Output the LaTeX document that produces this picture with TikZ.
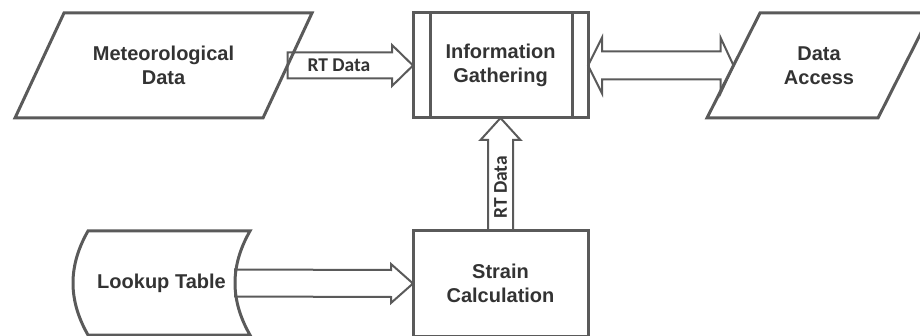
\documentclass[tikz,border=0pt]{standalone}
\usepackage{fontspec}
\setmainfont{Liberation Sans}
\newfontfamily\arrowfont{Carlito}
\usetikzlibrary{calc}
\definecolor{linegray}{HTML}{5A5A5A}
\definecolor{textgray}{HTML}{333333}
\tikzset{
  shapetext/.style={inner sep=0pt, outer sep=0pt, align=center, text=textgray,
    font=\fontsize{20}{24}\selectfont\bfseries},
  outline/.style={draw=linegray, line width=3pt, line join=miter},
  blockarrow/.style={draw=linegray, fill=white, line width=2pt, line join=miter},
  arrowlabel/.style={inner sep=0pt, text=textgray, font=\arrowfont\fontsize{19.5}{22}\selectfont\bfseries},
}
\begin{document}
\begin{tikzpicture}[x=1pt, y=-1pt]
\useasboundingbox (0,0) rectangle (920,336);
\clip (0,0) rectangle (920,336);
% invisible shape bodies (text nodes)
\node[shapetext, minimum width=297pt, minimum height=105pt] (met) at (163.5,65.5) {Meteorological\\Data};
\node[shapetext, minimum width=175pt, minimum height=105pt] (info) at (500.5,65.5) {Information\\Gathering};
\node[shapetext, minimum width=224pt, minimum height=105pt] (da) at (819,65.5) {Data\\Access};
\node[shapetext, minimum width=175pt, minimum height=105pt] (strain) at (500.5,283.5) {Strain\\Calculation};
\node[shapetext, minimum width=177pt, minimum height=104pt] (lookup) at (161.5,283) {Lookup Table};
% arrow end points
\coordinate (a1s) at ($(met.east)+(-24.5,0)$);
\coordinate (a1t) at (info.west);
\coordinate (a2l) at (info.east);
\coordinate (a2r) at ($(da.west)+(26.5,0)$);
\coordinate (a3t) at (info.south);
\coordinate (a3s) at (strain.north);
\coordinate (a4s) at ($(lookup.east)+(-15,0)$);
\coordinate (a4t) at (strain.west);
% arrow 1: Meteorological Data -> Information Gathering
\draw[blockarrow] ($(a1s)+(0,-13)$) -- ($(a1t)+(-21,-13)$) -- ($(a1t)+(-21,-20.5)$) -- (a1t)
  -- ($(a1t)+(-21,20.5)$) -- ($(a1t)+(-21,13)$) -- ($(a1s)+(0,13)$) -- cycle;
\node[arrowlabel] (lab1) at ($(a1s)!0.41!(a1t)$) {RT Data};
% arrow 2: double arrow Information Gathering <-> Data Access
\draw[blockarrow] (a2l) -- ($(a2l)+(14,-28)$) -- ($(a2l)+(14,-14)$) -- ($(a2r)+(-13,-14)$)
  -- ($(a2r)+(-13,-28)$) -- (a2r) -- ($(a2r)+(-13,28)$) -- ($(a2r)+(-13,14)$)
  -- ($(a2l)+(14,14)$) -- ($(a2l)+(14,28)$) -- cycle;
% arrow 3: Strain Calculation -> Information Gathering
\draw[blockarrow] ($(a3s)+(-12.5,0)$) -- ($(a3t)+(-12.5,22)$) -- ($(a3t)+(-20,22)$) -- (a3t)
  -- ($(a3t)+(20,22)$) -- ($(a3t)+(12.5,22)$) -- ($(a3s)+(12.5,0)$) -- cycle;
\node[arrowlabel, rotate=90] (lab2) at ($(a3s)!0.48!($(a3t)+(0,22)$)$) {RT Data};
% arrow 4: Lookup Table -> Strain Calculation
\draw[blockarrow] ($(a4s)+(0,-13.5)$) -- ($(a4t)+(-22,-13.5)$) -- ($(a4t)+(-22,-19.5)$) -- (a4t)
  -- ($(a4t)+(-22,19.5)$) -- ($(a4t)+(-22,13.5)$) -- ($(a4s)+(0,13.5)$) -- cycle;
% outlines on top
\draw[outline] ($(met.north west)+(49,0)$) -- (met.north east) -- ($(met.south east)+(-49,0)$)
  -- (met.south west) -- cycle;
\draw[outline] (info.north west) rectangle (info.south east);
\draw[outline] ($(info.north west)+(17,0)$) -- ($(info.south west)+(17,0)$);
\draw[outline] ($(info.north east)+(-16,0)$) -- ($(info.south east)+(-16,0)$);
\draw[outline] ($(da.north west)+(53,0)$) -- (da.north east) -- ($(da.south east)+(-53,0)$)
  -- (da.south west) -- cycle;
\draw[outline] (strain.north west) rectangle (strain.south east);
\draw[outline] ($(lookup.north west)+(15,0)$) -- ($(lookup.north east)$)
  .. controls ($(lookup.north east)+(-20,35)$) and ($(lookup.south east)+(-20,-35)$) .. (lookup.south east)
  -- ($(lookup.south west)+(15,0)$)
  .. controls ($(lookup.south west)+(-5,-35)$) and ($(lookup.north west)+(-5,35)$) .. ($(lookup.north west)+(15,0)$) -- cycle;
\end{tikzpicture}
\end{document}
